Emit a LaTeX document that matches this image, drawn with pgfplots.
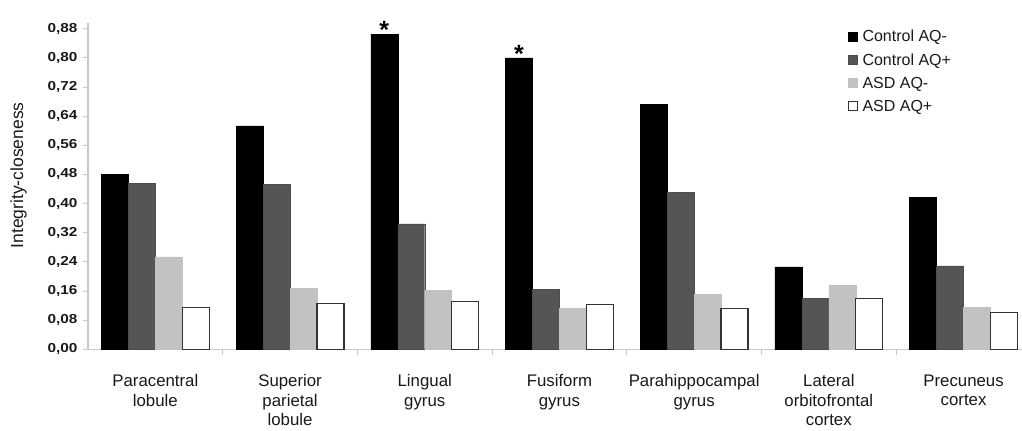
\documentclass[border=0pt]{standalone}
\usepackage{fontspec}
\setmainfont{Liberation Sans}
\newfontfamily\tickfont{Liberation Sans Bold}[FakeStretch=1.18]
\usepackage{pgfplots}
\pgfplotsset{compat=1.18}
\definecolor{darkbar}{HTML}{555555}
\definecolor{lightbar}{HTML}{C2C2C2}
\definecolor{axgray}{HTML}{C8C8C8}
\begin{document}
\begin{tikzpicture}
\begin{axis}[
  scale only axis,
  width=934bp, height=326.3bp,
  xmin=-0.5, xmax=6.434,
  ymin=0, ymax=0.8957,
  clip=false,
  ybar=0pt, bar width=0.2,
  axis x line*=bottom, axis y line*=left,
  axis line style={axgray, line width=1.3bp, -},
  tick style={axgray, line width=1bp},
  tick align=outside,
  ytick={0,0.08,0.16,0.24,0.32,0.40,0.48,0.56,0.64,0.72,0.80,0.88},
  yticklabel style={/pgf/number format/fixed, /pgf/number format/fixed zerofill, /pgf/number format/precision=2, /pgf/number format/use comma, /pgf/number format/assume math mode=true,
    font=\tickfont\fontsize{13bp}{13bp}\selectfont, text=black!90, xshift=-2bp},
  major tick length=5bp,
  minor tick length=6bp,
  xtick={0,1,2,3,4,5,6},
  major x tick style={draw=none},
  minor xtick={0.5,1.5,2.5,3.5,4.5,5.5},
  xticklabels={{Paracentral\\lobule},{Superior\\parietal\\lobule},{Lingual\\gyrus},{Fusiform\\gyrus},{Parahippocampal\\gyrus},{Lateral\\orbitofrontal\\cortex},{Precuneus\\cortex}},
  xticklabel style={align=center, font=\fontsize{16.8bp}{19.5bp}\selectfont, text=black!90, anchor=north, yshift=-17bp},
  ylabel={Integrity-closeness},
  every axis y label/.style={at={(axis description cs:-0.0744,0.533)}, rotate=90, anchor=center, font=\fontsize{17.5bp}{17.5bp}\selectfont, text=black!90},
  legend image code/.code={\draw[#1, line width=0.8bp] (0bp,-4.5bp) rectangle (9bp,4.5bp);},
  legend style={at={(0.8137,0.984)}, anchor=north west, draw=none, fill=none, inner sep=0pt,
    font=\fontsize{16bp}{16bp}\selectfont, row sep=7.4bp, column sep=3bp,
    nodes={inner sep=1.5bp, text=black!90}},
  legend cell align=left,
]
\addplot[fill=black, draw=black,
  point meta=explicit symbolic,
  nodes near coords={\pgfplotspointmeta},
  every node near coord/.append style={font=\bfseries\fontsize{25bp}{25bp}\selectfont, anchor=south, yshift=-8bp}]
  coordinates {(0,0.481) [] (1,0.613) [] (2,0.865) [*] (3,0.800) [*] (4,0.673) [] (5,0.226) [] (6,0.418) []};
\addplot[fill=darkbar, draw=darkbar!90!black]
  coordinates {(0,0.455) (1,0.452) (2,0.344) (3,0.165) (4,0.431) (5,0.139) (6,0.229)};
\addplot[fill=lightbar, draw=lightbar]
  coordinates {(0,0.254) (1,0.168) (2,0.162) (3,0.113) (4,0.150) (5,0.175) (6,0.116)};
\addplot[fill=white, draw=black!80, line width=1.2bp]
  coordinates {(0,0.114) (1,0.126) (2,0.132) (3,0.122) (4,0.113) (5,0.140) (6,0.102)};
\legend{Control AQ-, Control AQ+, ASD AQ-, ASD AQ+}
\end{axis}
\pgfresetboundingbox
\path[use as bounding box] (-88bp,-81.7bp) rectangle (934bp,349.3bp);
\end{tikzpicture}
\end{document}
